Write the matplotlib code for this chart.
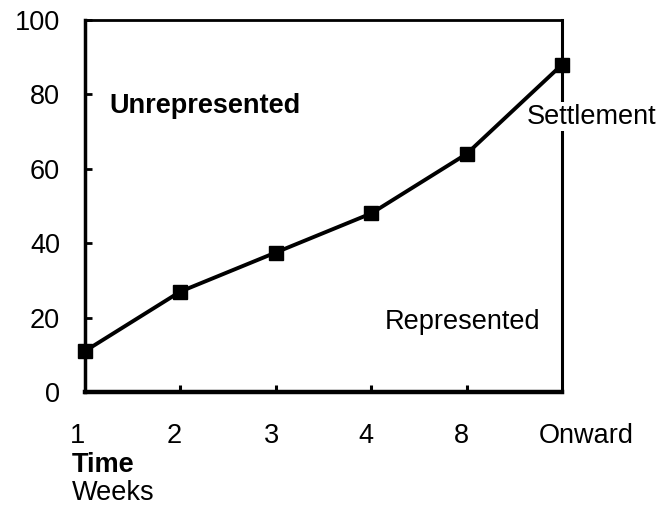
import matplotlib.pyplot as plt

plt.rcParams['font.family'] = ['Liberation Sans', 'DejaVu Sans']

# data
weeks = ["1", "2", "3", "4", "8", "Onward"]
percent = [11, 27, 37.5, 48, 64, 88]
y_ticks = [0, 20, 40, 60, 80, 100]

x = list(range(len(weeks)))
fs = 19.5

fig = plt.figure(figsize=(6.65, 5.09), dpi=100)
ax = fig.add_axes([85 / 665, 1 - 392 / 509, (562 - 85) / 665, (392 - 20) / 509])

ax.plot(x, percent, color="black", linewidth=2.8, marker="s",
        markersize=10.5, markerfacecolor="black", clip_on=False, zorder=3)

ax.set_xlim(0, len(weeks) - 1)
ax.set_ylim(0, 100)

for side, lw in [("left", 2.5), ("bottom", 3.2), ("top", 2.0), ("right", 2.2)]:
    ax.spines[side].set_linewidth(lw)

ax.set_yticks(y_ticks)
ax.set_yticklabels([str(v) for v in y_ticks], fontsize=fs)
ax.tick_params(axis="y", direction="in", length=5, width=2, pad=18)

# short ticks on the bottom axis, labels drawn separately
ax.set_xticks(x[1:-1])
ax.set_xticklabels([])
ax.tick_params(axis="x", direction="in", length=5, width=2.2)

label_shift = [-0.08, -0.06, -0.04, -0.06, -0.06, 0.25]
for xi, lab, dx in zip(x, weeks, label_shift):
    ax.text(xi + dx, -0.117, lab, transform=ax.get_xaxis_transform(),
            ha="center", va="center", fontsize=fs)

ax.text(-0.14, -0.195, "Time", transform=ax.get_xaxis_transform(),
        ha="left", va="center", fontsize=fs, fontweight="bold")
ax.text(-0.14, -0.272, "Weeks", transform=ax.get_xaxis_transform(),
        ha="left", va="center", fontsize=fs)

ax.text(0.26, 77, "Unrepresented", ha="left", va="center",
        fontsize=fs, fontweight="bold")
ax.text(3.14, 18.8, "Represented", ha="left", va="center", fontsize=fs)
ax.text(4.63, 74, "Settlement", ha="left", va="center", fontsize=fs,
        bbox=dict(facecolor="white", edgecolor="none", pad=1), clip_on=False,
        zorder=5)

fig.savefig("out.png", dpi=100)
